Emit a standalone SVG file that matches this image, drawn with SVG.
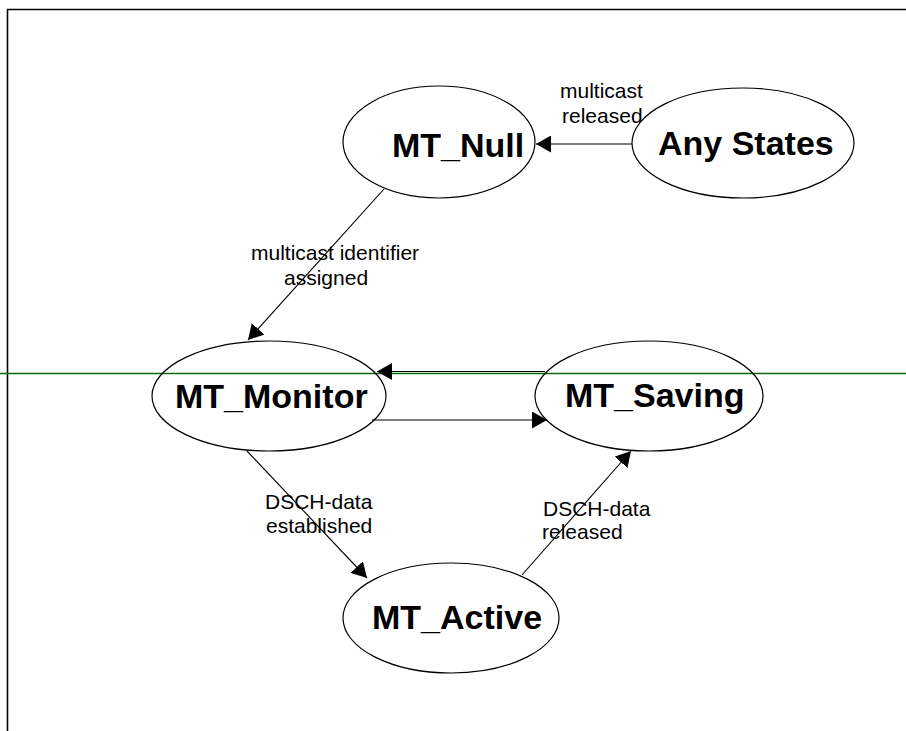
<svg xmlns="http://www.w3.org/2000/svg" width="906" height="731" viewBox="0 0 906 731">
<style>
.st{fill:#fff;stroke:#000;stroke-width:1.2}
.nm{font-family:"Liberation Sans",Arial,sans-serif;font-weight:bold;font-size:34px;fill:#000}
.lb{font-family:"Liberation Sans",Arial,sans-serif;font-size:21px;fill:#000}
.cn{stroke:#000;stroke-width:1.1;fill:none;marker-end:url(#ah)}
.fr{stroke:#000;stroke-width:1.6;fill:none}
</style>
<defs>
<marker id="ah" viewBox="0 0 15 17" refX="15" refY="8.5" markerWidth="15" markerHeight="17" markerUnits="userSpaceOnUse" orient="auto"><path d="M0,0 L15,8.5 L0,17 z" fill="#000"/></marker>
</defs>
<rect width="906" height="731" fill="#fff"/>
<g id="frame">
<path class="fr" d="M7.5,731 V9.5 H906"/>
<line x1="0" y1="373.5" x2="906" y2="373.5" stroke="#0b6b0b" stroke-width="1.3"/>
</g>
<g id="connectors">
<line class="cn" x1="632" y1="144" x2="536" y2="144"/>
<line class="cn" x1="384" y1="189" x2="248" y2="340"/>
<line class="cn" x1="545" y1="371.5" x2="377" y2="371.5"/>
<line class="cn" x1="372" y1="420" x2="547" y2="420"/>
<line class="cn" x1="247" y1="451" x2="367" y2="578"/>
<line class="cn" x1="522" y1="575" x2="631" y2="451"/>
</g>
<g id="labels">
<text class="lb" x="560" y="98">multicast</text>
<text class="lb" x="562" y="123">released</text>
<text class="lb" x="251" y="260">multicast identifier</text>
<text class="lb" x="284" y="285">assigned</text>
<text class="lb" x="265" y="509">DSCH-data</text>
<text class="lb" x="266" y="533">established</text>
<text class="lb" x="543" y="516">DSCH-data</text>
<text class="lb" x="542" y="539">released</text>
</g>
<g id="MT_Null">
<ellipse class="st" cx="439" cy="142" rx="96" ry="56"/>
<text class="nm" x="392" y="157">MT_Null</text>
</g>
<g id="Any_States">
<ellipse class="st" cx="743" cy="143" rx="111" ry="55"/>
<text class="nm" x="658" y="155">Any States</text>
</g>
<g id="MT_Monitor">
<ellipse class="st" cx="269" cy="396" rx="117" ry="55" fill-opacity="0"/>
<text class="nm" x="175" y="408">MT_Monitor</text>
</g>
<g id="MT_Saving">
<ellipse class="st" cx="649" cy="396" rx="114" ry="55" fill-opacity="0"/>
<text class="nm" x="565" y="407">MT_Saving</text>
</g>
<g id="MT_Active">
<ellipse class="st" cx="451" cy="618" rx="108" ry="55"/>
<text class="nm" x="372" y="629">MT_Active</text>
</g>
</svg>
